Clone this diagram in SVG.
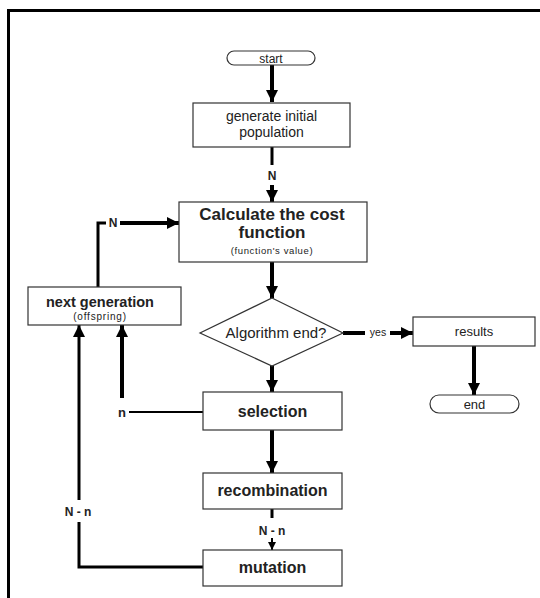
<svg xmlns="http://www.w3.org/2000/svg" width="540" height="598" viewBox="0 0 540 598">
<style>
.box{fill:#fff;stroke:#333;stroke-width:1.2}
.t{font-family:"Liberation Sans",Arial,sans-serif;fill:#222;text-anchor:middle}
.r{font-size:13px}
.b{font-size:16px;font-weight:bold}
.s{font-size:9.5px;letter-spacing:0.6px}
.w{fill:none;stroke:#000;stroke-width:4}
.m{fill:none;stroke:#000;stroke-width:3}
.n{fill:none;stroke:#000;stroke-width:2}
</style>
<defs>
<marker id="ah" viewBox="0 0 10 10" refX="10" refY="5" markerWidth="3" markerHeight="3" orient="auto" markerUnits="strokeWidth">
<path d="M0,0 L10,5 L0,10 z" fill="#000"/>
</marker>
<marker id="ah2" viewBox="0 0 10 10" refX="10" refY="5" markerWidth="4" markerHeight="4" orient="auto" markerUnits="strokeWidth">
<path d="M0,0 L10,5 L0,10 z" fill="#000"/>
</marker>
</defs>
<rect width="540" height="598" fill="#fff"/>
<path d="M8.5,598 V10.5 H540" fill="none" stroke="#000" stroke-width="3"/>

<g id="connectors">
<path class="w" d="M272,65 V102" marker-end="url(#ah)"/>
<path class="m" d="M272,147 V165"/>
<path class="w" d="M272,185 V202" marker-end="url(#ah)"/>
<path class="w" d="M272,262 V298" marker-end="url(#ah)"/>
<path class="m" d="M98,287 V223 H106"/>
<path class="w" d="M120,223 H179" marker-end="url(#ah)"/>
<path class="w" d="M343,333 H365"/>
<path class="w" d="M390,333 H413" marker-end="url(#ah)"/>
<path class="w" d="M474,346 V395" marker-end="url(#ah)"/>
<path class="w" d="M272,363 V392" marker-end="url(#ah)"/>
<path class="n" d="M203,412 H129"/>
<path class="w" d="M122,398 V325" marker-end="url(#ah)"/>
<path class="w" d="M272,430 V473" marker-end="url(#ah)"/>
<path class="m" d="M272,509 V518"/>
<path class="n" d="M272,538 V550" marker-end="url(#ah2)"/>
<path class="m" d="M203,567 H79 V522"/>
<path class="m" d="M79,500 V325" marker-end="url(#ah2)"/>
<text class="t" x="113" y="227" style="font-size:12px;font-weight:bold">N</text>
<text class="t" x="378" y="336" style="font-size:10.5px">yes</text>
<text class="t" x="272" y="180" style="font-size:12px;font-weight:bold">N</text>
<text class="t" x="122" y="417" style="font-size:13px;font-weight:bold">n</text>
<text class="t" x="272" y="535" style="font-size:12px;font-weight:bold">N - n</text>
<text class="t" x="78" y="516" style="font-size:12px;font-weight:bold">N - n</text>
</g>

<g id="start">
<rect class="box" x="227" y="51" width="88" height="14" rx="7"/>
<text class="t" x="271" y="62.5" style="font-size:12px">start</text>
</g>
<g id="generate">
<rect class="box" x="193" y="103" width="157" height="44"/>
<text class="t" x="271.5" y="121" style="font-size:14px">generate initial</text>
<text class="t" x="271.5" y="137" style="font-size:14px">population</text>
</g>
<g id="calculate">
<rect class="box" x="179" y="202" width="188" height="60"/>
<text class="t" x="272" y="220" style="font-size:17px;font-weight:bold">Calculate the cost</text>
<text class="t" x="272" y="238" style="font-size:17px;font-weight:bold">function</text>
<text class="t s" x="272" y="254">(function's value)</text>
</g>
<g id="nextgen">
<rect class="box" x="28" y="287" width="153" height="38"/>
<text class="t" x="100" y="307" style="font-size:14.5px;font-weight:bold">next generation</text>
<text class="t s" x="100" y="320" style="font-size:10px;letter-spacing:0.8px">(offspring)</text>
</g>
<g id="decision">
<polygon class="box" points="272,298 343,333 272,366 200,333"/>
<text class="t" x="276" y="338" style="font-size:15px">Algorithm end?</text>
</g>
<g id="results">
<rect class="box" x="413" y="317" width="122" height="29"/>
<text class="t r" x="474" y="336">results</text>
</g>
<g id="end">
<rect class="box" x="430" y="395" width="89" height="18" rx="9"/>
<text class="t r" x="474.5" y="409">end</text>
</g>
<g id="selection">
<rect class="box" x="203" y="392" width="139" height="38"/>
<text class="t b" x="272.5" y="417">selection</text>
</g>
<g id="recombination">
<rect class="box" x="203" y="473" width="139" height="36"/>
<text class="t b" x="272.5" y="496">recombination</text>
</g>
<g id="mutation">
<rect class="box" x="203" y="550" width="139" height="36"/>
<text class="t b" x="272.5" y="573">mutation</text>
</g>
</svg>
